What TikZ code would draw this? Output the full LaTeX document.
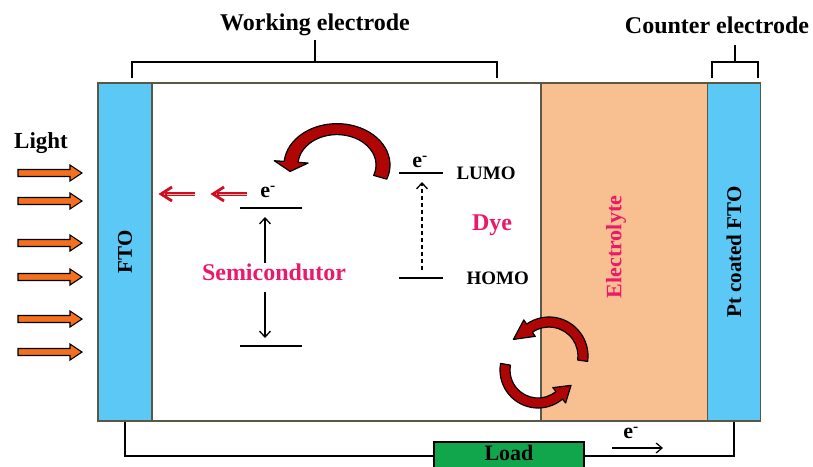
\documentclass[tikz,border=0pt]{standalone}
\usepackage{fontspec}
\setmainfont{Liberation Serif}
\usepackage{tikz}
\usetikzlibrary{arrows.meta,positioning}

\definecolor{ftoblu}{RGB}{92,200,245}
\definecolor{elettrolita}{RGB}{248,192,145}
\definecolor{bordo}{RGB}{88,88,68}
\definecolor{rosa}{RGB}{235,25,105}
\definecolor{rossoscuro}{RGB}{175,5,5}
\definecolor{rossofreccia}{RGB}{205,15,30}
\definecolor{arancio}{RGB}{245,112,30}
\definecolor{verde}{RGB}{18,166,76}

% freccia curva piena: opzioni, raggio, angolo iniziale, finale, punta, semilarghezza, semipunta
\newcommand{\frecciacurva}[7]{%
  \begin{scope}[#1]
    \filldraw[frecciarossa] (#3:{#2+#6}) arc[start angle=#3, end angle=#4, radius={#2+#6}]
      -- (#4:{#2+#7}) -- ({#4+#5}:{#2/cos(#5)}) -- (#4:{#2-#7})
      -- (#4:{#2-#6}) arc[start angle=#4, end angle=#3, radius={#2-#6}] -- cycle;
  \end{scope}}

\begin{document}
\begin{tikzpicture}[>=Latex, x=1pt, y=-1pt,
    tit/.style={font=\fontsize{24}{28}\selectfont\bfseries},
    med/.style={font=\fontsize{21}{25}\selectfont\bfseries},
    picc/.style={font=\fontsize{19}{22}\selectfont\bfseries},
    elet/.style={font=\fontsize{22}{26}\selectfont\bfseries},
    strato/.style={draw=bordo, line width=1.8pt, inner sep=0pt, minimum height=338},
    livello/.style={line width=2.4pt},
    parentesi/.style={line width=2.4pt},
    filo/.style={line width=1.6pt},
    freccina/.style={line width=1.3pt, -{Straight Barb[length=6pt,width=11pt]}},
    frecciarossa/.style={fill=rossoscuro, draw=black, line width=1.2pt, line join=round},
    luce/.style={fill=arancio, draw=black, line width=1.1pt, line join=miter},
    doppia/.style={draw=rossofreccia, line width=4.6pt},
    doppiacentro/.style={draw=rossofreccia!30, line width=1pt},
    doppiapunta/.style={draw=rossofreccia, line width=2.8pt, line join=miter}]
  \useasboundingbox (0,0) rectangle (813,466);
  \fill[white] (0,0) rectangle (813,466);

  % Strati della cella
  \node[strato, fill=ftoblu, minimum width=54] (fto) at (125,252) {};
  \node[strato, fill=white, minimum width=389] (we) at (346.5,252) {};
  \node[strato, fill=elettrolita, minimum width=167] (elet) at (624.5,252) {};
  \node[strato, fill=ftoblu, minimum width=53] (pt) at (734,252) {};
  \node[med, rotate=90] (ftotxt) at (fto) {FTO};
  \node[med, rotate=90] (pttxt) at (pt) {Pt coated FTO};
  \node[elet, rotate=90, text=rosa] (elettxt) at (616,247) {Electrolyte};

  % Parentesi degli elettrodi
  \node[tit] (wetxt) at (315,25) {Working electrode};
  \node[tit] (cetxt) at (717,25) {Counter electrode};
  \draw[parentesi] (132,78) -- (132,62) -- (497,62) -- (497,78);
  \draw[parentesi] (wetxt.south) -- (wetxt.south |- 0,62);
  \draw[parentesi] (712,78) -- (712,62) -- (758,62) -- (758,78);
  \draw[parentesi] (735,62) -- (735,45);

  % Luce incidente
  \node[tit, font=\fontsize{23}{27}\selectfont\bfseries] (luctxt) at (41,143) {Light};
  \foreach \yy in {173,201,243,277,319,352}
    \filldraw[luce] (18,{\yy-3.5}) -- (70,{\yy-3.5}) -- (70,{\yy-8}) -- (82,\yy)
      -- (70,{\yy+8}) -- (70,{\yy+3.5}) -- (18,{\yy+3.5}) -- cycle;

  % Semiconduttore
  \draw[livello] (240,208) coordinate (cbsx) -- (302,208) coordinate (cbdx);
  \draw[livello] (240,346) coordinate (vbsx) -- (302,346) coordinate (vbdx);
  \node[tit, font=\fontsize{22}{26}\selectfont\bfseries] (esc) at (268,192) {e\textsuperscript{-}};
  \node[tit, text=rosa] (semi) at (274,272) {Semicondutor};
  \coordinate (su) at (265,263);
  \coordinate (sg) at (265,292);
  \draw[freccina] (su) -- (su |- 0,217);
  \draw[freccina] (sg) -- (sg |- 0,338);
  % frecce doppie verso FTO
  \foreach \pp/\cc in {161/195,213/247} {
    \draw[doppia] (\cc,194) -- ({\pp+4},194);
    \draw[doppiacentro] (\cc,194) -- ({\pp+6},194);
    \draw[doppiapunta] ({\pp+11},187) -- (\pp,194) -- ({\pp+11},201);
  }

  % Colorante
  \draw[livello] (399,173) coordinate (lumosx) -- (443,173) coordinate (lumodx);
  \draw[livello] (399,278) coordinate (homosx) -- (443,278) coordinate (homodx);
  \node[tit, font=\fontsize{22}{26}\selectfont\bfseries] (edye) at (420,162) {e\textsuperscript{-}};
  \node[picc, right=10pt of lumodx] (lumo) {LUMO};
  \node[picc, right=20pt of homodx] (homo) {HOMO};
  \node[tit, text=rosa] (dye) at (492,225) {Dye};
  \draw[freccina, dash pattern=on 4.5pt off 2.5pt] (422,270) -- (422,182);

  % Frecce curve
  \frecciacurva{shift={(337,165)}, yscale=0.78}{46}{20}{-175}{-15}{7}{17}
  \frecciacurva{shift={(549,356)}}{34}{8}{-125}{-30}{5}{10}
  \frecciacurva{shift={(538,370)}}{33}{190}{50}{-25}{5}{10}

  % Circuito esterno
  \node[draw=black, line width=1.5pt, fill=verde, minimum width=150,
    minimum height=30, inner sep=0pt] (carico) at (509,457) {};
  \node[tit, inner sep=0pt, font=\fontsize{22}{26}\selectfont\bfseries] (caricotxt) at (509,453) {Load};
  \draw[filo] (fto.south) -- (fto.south |- 0,456) -- (carico.west |- 0,456);
  \draw[filo] (carico.east |- 0,456) -- (pt.south |- 0,456) -- (pt.south);
  \coordinate (ein) at (612,448);
  \coordinate (eout) at (663,448);
  \draw[line width=1.2pt, -{Straight Barb[length=6pt,width=10pt]}] (ein) -- (eout);
  \node[tit, font=\fontsize{22}{26}\selectfont\bfseries] (eload) at (631,433) {e\textsuperscript{-}};
\end{tikzpicture}
\end{document}
